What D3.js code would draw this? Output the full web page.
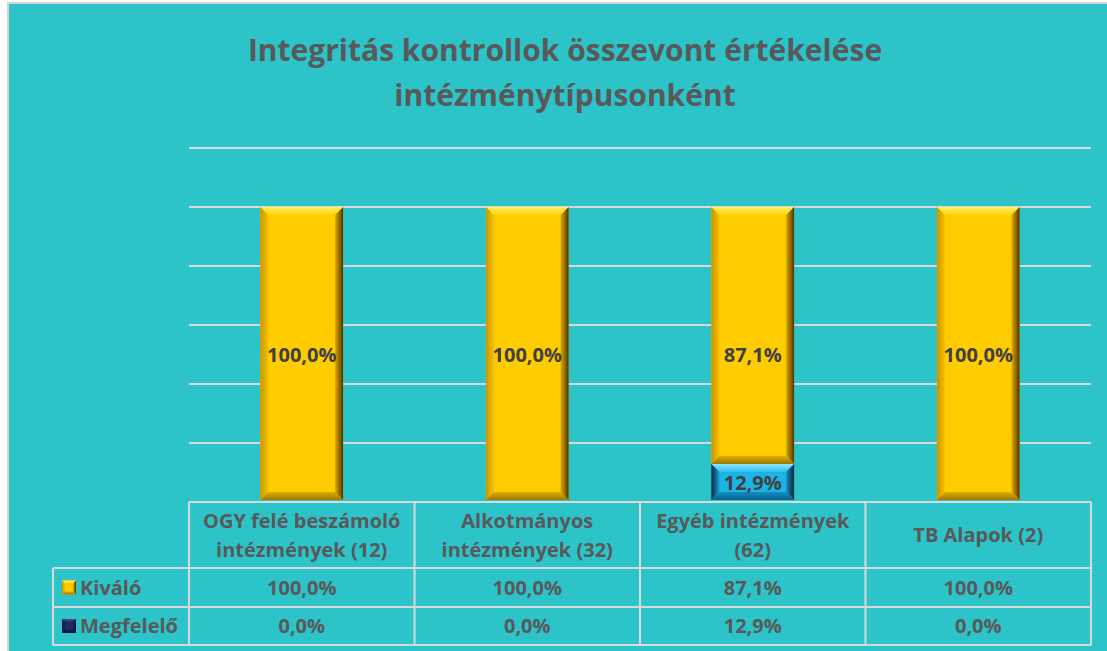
<!DOCTYPE html>
<html>
<head>
<meta charset="utf-8">
<script src="https://cdn.jsdelivr.net/npm/d3@7"></script>
<style>
  body { margin: 0; background: #ffffff; }
  svg text { font-family: "Open Sans", Lato, sans-serif; font-weight: bold; }
</style>
</head>
<body>
<div id="chart"></div>
<script>
const categories = ['OGY felé beszámoló intézmények (12)', 'Alkotmányos intézmények (32)', 'Egyéb intézmények (62)', 'TB Alapok (2)'];
const categoryLines = [['OGY felé beszámoló', 'intézmények (12)'], ['Alkotmányos', 'intézmények (32)'], ['Egyéb intézmények', '(62)'], ['TB Alapok (2)']];
const seriesNames = ['Kiváló', 'Megfelelő'];
const kivalo = [100.0, 100.0, 87.1, 100.0];
const megfelelo = [0.0, 0.0, 12.9, 0.0];
const gridTicks = [0, 20, 40, 60, 80, 100, 120];

const fmt = v => d3.format('.1f')(v).replace('.', ',') + '%';

const width = 1107, height = 651;
const plot = {left: 189, right: 1091, top: 148, bottom: 502};

const svg = d3.select('#chart').append('svg')
    .attr('width', width)
    .attr('height', height);

// background
svg.append('rect')
    .attr('x', 8).attr('y', 3)
    .attr('width', width + 10).attr('height', height + 10)
    .attr('fill', '#2cc3c9')
    .attr('stroke', '#d4d4d4').attr('stroke-width', 2);

// title
svg.append('text')
    .attr('x', 565).attr('y', 61)
    .attr('text-anchor', 'middle')
    .attr('fill', '#595959')
    .style('font-size', '30px')
    .text('Integritás kontrollok összevont értékelése');
svg.append('text')
    .attr('x', 565).attr('y', 106)
    .attr('text-anchor', 'middle')
    .attr('fill', '#595959')
    .style('font-size', '30px')
    .text('intézménytípusonként');

const x = d3.scaleBand()
    .domain(categories)
    .range([plot.left, plot.right]);

const y = d3.scaleLinear()
    .domain([0, 120])
    .range([plot.bottom, plot.top]);

// gridlines
svg.append('g')
    .selectAll('line')
    .data(gridTicks)
    .join('line')
    .attr('x1', plot.left).attr('x2', plot.right)
    .attr('y1', d => y(d)).attr('y2', d => y(d))
    .attr('stroke', '#d9d9d9')
    .attr('stroke-width', 2);

// gradients for bevels
const defs = svg.append('defs');
function grad(id, x2, y2, stops) {
    const g = defs.append('linearGradient').attr('id', id)
        .attr('x1', 0).attr('y1', 0).attr('x2', x2).attr('y2', y2);
    stops.forEach((c, i) => g.append('stop').attr('offset', i / (stops.length - 1)).attr('stop-color', c));
}
grad('yTop', 0, 1, ['#fff06a', '#ffd200']);
grad('yRight', 1, 0, ['#e0a800', '#4a3600']);
grad('yLeft', 1, 0, ['#c99700', '#f5c000']);
grad('yBottom', 0, 1, ['#e0ac00', '#9c7800']);
grad('bTop', 0, 1, ['#8fe6ff', '#2cc0f0']);
grad('bRight', 1, 0, ['#1590c0', '#06243a']);
grad('bLeft', 1, 0, ['#06243a', '#1aa0d0']);
grad('bBottom', 0, 1, ['#1390c4', '#0a5f88']);
grad('nTop', 0, 1, ['#3a4f9a', '#1f2e6a']);
grad('nRight', 1, 0, ['#1a2658', '#050a20']);

const palette = {
    'Kiváló': {fill: '#ffcc00', top: 'url(#yTop)', right: 'url(#yRight)', left: 'url(#yLeft)', bottom: 'url(#yBottom)'},
    'Megfelelő': {fill: '#1cb4e6', top: 'url(#bTop)', right: 'url(#bRight)', left: 'url(#bLeft)', bottom: 'url(#bBottom)'}
};
const keyPalette = {
    'Kiváló': palette['Kiváló'],
    'Megfelelő': {fill: '#1a2a66', top: 'url(#nTop)', right: 'url(#nRight)', left: '#141f50', bottom: '#0d1640'}
};

function bevelRect(g, bx, by, w, h, p, b) {
    b = Math.min(b, h / 2, w / 2);
    g.append('rect').attr('x', bx).attr('y', by).attr('width', w).attr('height', h).attr('fill', p.fill);
    const pts = a => a.map(q => q.join(',')).join(' ');
    g.append('polygon').attr('points', pts([[bx, by], [bx + w, by], [bx + w - b, by + b], [bx + b, by + b]])).attr('fill', p.top);
    g.append('polygon').attr('points', pts([[bx, by], [bx + b, by + b], [bx + b, by + h - b], [bx, by + h]])).attr('fill', p.left);
    g.append('polygon').attr('points', pts([[bx + w, by], [bx + w, by + h], [bx + w - b, by + h - b], [bx + w - b, by + b]])).attr('fill', p.right);
    g.append('polygon').attr('points', pts([[bx, by + h], [bx + b, by + h - b], [bx + w - b, by + h - b], [bx + w, by + h]])).attr('fill', p.bottom);
}

// stacked bars: Megfelelő at the base, Kiváló on top
const rows = categories.map((c, i) => ({cat: c, 'Kiváló': kivalo[i], 'Megfelelő': megfelelo[i]}));
const stacked = d3.stack().keys(['Megfelelő', 'Kiváló'])(rows);

const barW = x.bandwidth() * 0.367;
const bars = svg.append('g');
stacked.forEach(layer => {
    layer.forEach(d => {
        if (d[1] - d[0] <= 0) return;
        const bx = x(d.data.cat) + (x.bandwidth() - barW) / 2;
        const top = y(d[1]);
        const h = y(d[0]) - y(d[1]) - (d[0] === 0 ? 2 : 0);
        bevelRect(bars, bx, top, barW, h, palette[layer.key], 8);
    });
});

// data labels
stacked.forEach(layer => {
    layer.forEach(d => {
        if (d[1] - d[0] <= 0) return;
        const total = d.data['Kiváló'] + d.data['Megfelelő'];
        const cy = layer.key === 'Kiváló' ? y(total / 2) : y((d[0] + d[1]) / 2);
        bars.append('text')
            .attr('x', x(d.data.cat) + x.bandwidth() / 2)
            .attr('y', cy)
            .attr('dy', '0.36em')
            .attr('text-anchor', 'middle')
            .attr('fill', '#404040')
            .style('font-size', '20px')
            .text(fmt(d[1] - d[0]));
    });
});

// data table
const table = svg.append('g');
const rowTop = plot.bottom, headBottom = 568, row1 = 607, row2 = 645, legLeft = 53;
const lineStyle = s => s.attr('stroke', '#d9d9d9').attr('stroke-width', 2);

table.append('line').attr('x1', legLeft).attr('x2', plot.right).attr('y1', headBottom).attr('y2', headBottom).call(lineStyle);
table.append('line').attr('x1', legLeft).attr('x2', plot.right).attr('y1', row1).attr('y2', row1).call(lineStyle);
table.append('line').attr('x1', legLeft).attr('x2', plot.right).attr('y1', row2).attr('y2', row2).call(lineStyle);
table.append('line').attr('x1', legLeft).attr('x2', legLeft).attr('y1', headBottom).attr('y2', row2).call(lineStyle);
categories.forEach((c, i) => {
    const xl = x(c);
    table.append('line').attr('x1', xl).attr('x2', xl).attr('y1', rowTop).attr('y2', row2).call(lineStyle);
});
table.append('line').attr('x1', plot.right).attr('x2', plot.right).attr('y1', rowTop).attr('y2', row2).call(lineStyle);
table.append('line').attr('x1', plot.left).attr('x2', plot.right).attr('y1', rowTop).attr('y2', rowTop).call(lineStyle);

// header
categories.forEach((c, i) => {
    const lines = categoryLines[i];
    const cx = x(c) + x.bandwidth() / 2;
    const mid = (rowTop + headBottom) / 2;
    lines.forEach((t, j) => {
        table.append('text')
            .attr('x', cx)
            .attr('y', mid + (j - (lines.length - 1) / 2) * 29)
            .attr('dy', '0.36em')
            .attr('text-anchor', 'middle')
            .attr('fill', '#595959')
            .style('font-size', '20px')
            .text(t);
    });
});

// value rows
const rowValues = [kivalo, megfelelo];
const rowMids = [(headBottom + row1) / 2, (row1 + row2) / 2];
seriesNames.forEach((s, r) => {
    const ky = rowMids[r];
    bevelRect(table, 62, ky - 7, 14, 14, keyPalette[s], 3);
    table.append('text')
        .attr('x', 80).attr('y', ky)
        .attr('dy', '0.36em')
        .attr('fill', '#595959')
        .style('font-size', '20px')
        .text(s);
    categories.forEach((c, i) => {
        table.append('text')
            .attr('x', x(c) + x.bandwidth() / 2)
            .attr('y', ky)
            .attr('dy', '0.36em')
            .attr('text-anchor', 'middle')
            .attr('fill', '#595959')
            .style('font-size', '20px')
            .text(fmt(rowValues[r][i]));
    });
});
</script>
</body>
</html>
